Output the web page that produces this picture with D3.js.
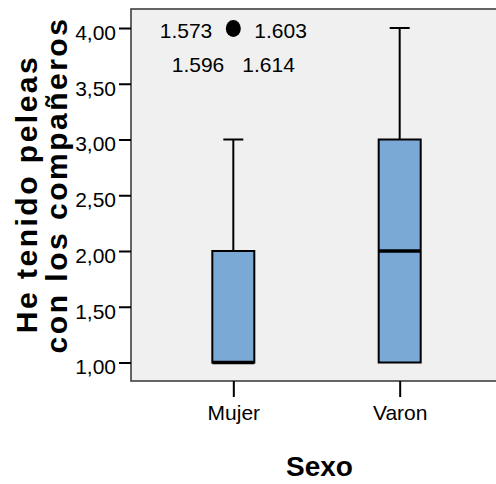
<!DOCTYPE html>
<html>
<head>
<meta charset="utf-8">
<script src="https://cdn.jsdelivr.net/npm/d3@7"></script>
<style>
  body { margin: 0; background: #fff; }
  text { font-family: "Liberation Sans", Arial, sans-serif; }
</style>
</head>
<body>
<div id="chart"></div>
<script>
// data
var categories = ["Mujer", "Varon"];
var lowWhisker = [1, 1];
var q1 = [1, 1];
var median = [1, 2];
var q3 = [2, 3];
var highWhisker = [3, 4];
// outlier cases (value, case labels) for Mujer
var outlierValues = [4];
var outlierLabels = ["1.573", "1.603", "1.596", "1.614"];
var yTicks = [1, 1.5, 2, 2.5, 3, 3.5, 4];
var yTitle = ["He tenido peleas", "con los compañeros"];
var xTitle = "Sexo";

var width = 496, height = 484;
var frame = {left: 131, top: 9, right: 502, bottom: 381};

var svg = d3.select("#chart").append("svg")
    .attr("width", width)
    .attr("height", height);

var x = d3.scalePoint()
    .domain(categories)
    .range([frame.left, frame.right])
    .padding(0.615);

var y = d3.scaleLinear()
    .domain([1, 4])
    .range([362.5, 28]);

// plot background
svg.append("rect")
    .attr("x", frame.left)
    .attr("y", frame.top)
    .attr("width", frame.right - frame.left)
    .attr("height", frame.bottom - frame.top)
    .attr("fill", "#f0f0f0")
    .attr("stroke", "#333")
    .attr("stroke-width", 1.5);

// y axis
var yAxis = d3.axisLeft(y)
    .tickValues(yTicks)
    .tickSize(12)
    .tickPadding(3)
    .tickFormat(function(d) { return d3.format(".2f")(d).replace(".", ","); });

var gy = svg.append("g")
    .attr("transform", "translate(" + frame.left + ",0)")
    .call(yAxis);
gy.select(".domain").remove();
gy.selectAll(".tick line").attr("stroke", "#000").attr("stroke-width", 2);
gy.selectAll(".tick text")
    .attr("font-family", "Liberation Sans, Arial, sans-serif")
    .attr("font-size", 21)
    .attr("fill", "#000")
    .attr("dy", "0.45em")
    .attr("y", 2);

// x axis
var xAxis = d3.axisBottom(x)
    .tickSize(16)
    .tickPadding(8);

var gx = svg.append("g")
    .attr("transform", "translate(0," + frame.bottom + ")")
    .call(xAxis);
gx.select(".domain").remove();
gx.selectAll(".tick line").attr("stroke", "#000").attr("stroke-width", 2);
gx.selectAll(".tick text")
    .attr("font-family", "Liberation Sans, Arial, sans-serif")
    .attr("font-size", 21)
    .attr("fill", "#000");

// boxes
var boxW = 42, capW = 20;
var boxes = categories.map(function(c, i) {
    return {cat: c, lo: lowWhisker[i], q1: q1[i], med: median[i], q3: q3[i], hi: highWhisker[i]};
});

var g = svg.append("g");
var b = g.selectAll("g.box").data(boxes).enter().append("g").attr("class", "box");

// upper whisker
b.append("line")
    .attr("x1", function(d) { return x(d.cat); })
    .attr("x2", function(d) { return x(d.cat); })
    .attr("y1", function(d) { return y(d.q3); })
    .attr("y2", function(d) { return y(d.hi); })
    .attr("stroke", "#000").attr("stroke-width", 2);
b.append("line")
    .attr("x1", function(d) { return x(d.cat) - capW / 2; })
    .attr("x2", function(d) { return x(d.cat) + capW / 2; })
    .attr("y1", function(d) { return y(d.hi); })
    .attr("y2", function(d) { return y(d.hi); })
    .attr("stroke", "#000").attr("stroke-width", 2);
// lower whisker (collapsed when lo == q1)
b.filter(function(d) { return d.lo < d.q1; }).append("line")
    .attr("x1", function(d) { return x(d.cat); })
    .attr("x2", function(d) { return x(d.cat); })
    .attr("y1", function(d) { return y(d.q1); })
    .attr("y2", function(d) { return y(d.lo); })
    .attr("stroke", "#000").attr("stroke-width", 2);

b.append("rect")
    .attr("x", function(d) { return x(d.cat) - boxW / 2; })
    .attr("y", function(d) { return y(d.q3); })
    .attr("width", boxW)
    .attr("height", function(d) { return y(d.q1) - y(d.q3); })
    .attr("fill", "#7aa9d6")
    .attr("stroke", "#000")
    .attr("stroke-width", 2);

b.append("line")
    .attr("x1", function(d) { return x(d.cat) - boxW / 2; })
    .attr("x2", function(d) { return x(d.cat) + boxW / 2; })
    .attr("y1", function(d) { return y(d.med); })
    .attr("y2", function(d) { return y(d.med); })
    .attr("stroke", "#000").attr("stroke-width", 3.5);

// outliers for Mujer with case labels
var ox = x(categories[0]);
var oy = y(outlierValues[0]);
svg.append("ellipse")
    .attr("cx", ox).attr("cy", oy + 0.5)
    .attr("rx", 7.5).attr("ry", 8.5)
    .attr("fill", "#000");

var labelPos = [
    {dx: -21, dy: 10, anchor: "end"},
    {dx: 21, dy: 10, anchor: "start"},
    {dx: -9, dy: 44, anchor: "end"},
    {dx: 9, dy: 44, anchor: "start"}
];
svg.selectAll("text.case").data(outlierLabels).enter().append("text")
    .attr("class", "case")
    .attr("x", function(d, i) { return ox + labelPos[i].dx; })
    .attr("y", function(d, i) { return oy + labelPos[i].dy; })
    .attr("text-anchor", function(d, i) { return labelPos[i].anchor; })
    .attr("font-size", 21)
    .attr("fill", "#000")
    .text(function(d) { return d; });

// axis titles
svg.append("text")
    .attr("x", (x(categories[0]) + x(categories[1])) / 2 + 3)
    .attr("y", 476)
    .attr("text-anchor", "middle")
    .attr("font-size", 28)
    .attr("font-weight", "bold")
    .text(xTitle);

svg.selectAll("text.ytitle").data(yTitle).enter().append("text")
    .attr("class", "ytitle")
    .attr("transform", function(d, i) { return "translate(" + (36.5 + i * 30) + "," + (i ? 185 : 194) + ") rotate(-90)"; })
    .attr("text-anchor", "middle")
    .attr("font-size", 30)
    .attr("font-weight", "bold")
    .attr("letter-spacing", 2.5)
    .text(function(d) { return d; });
</script>
</body>
</html>
